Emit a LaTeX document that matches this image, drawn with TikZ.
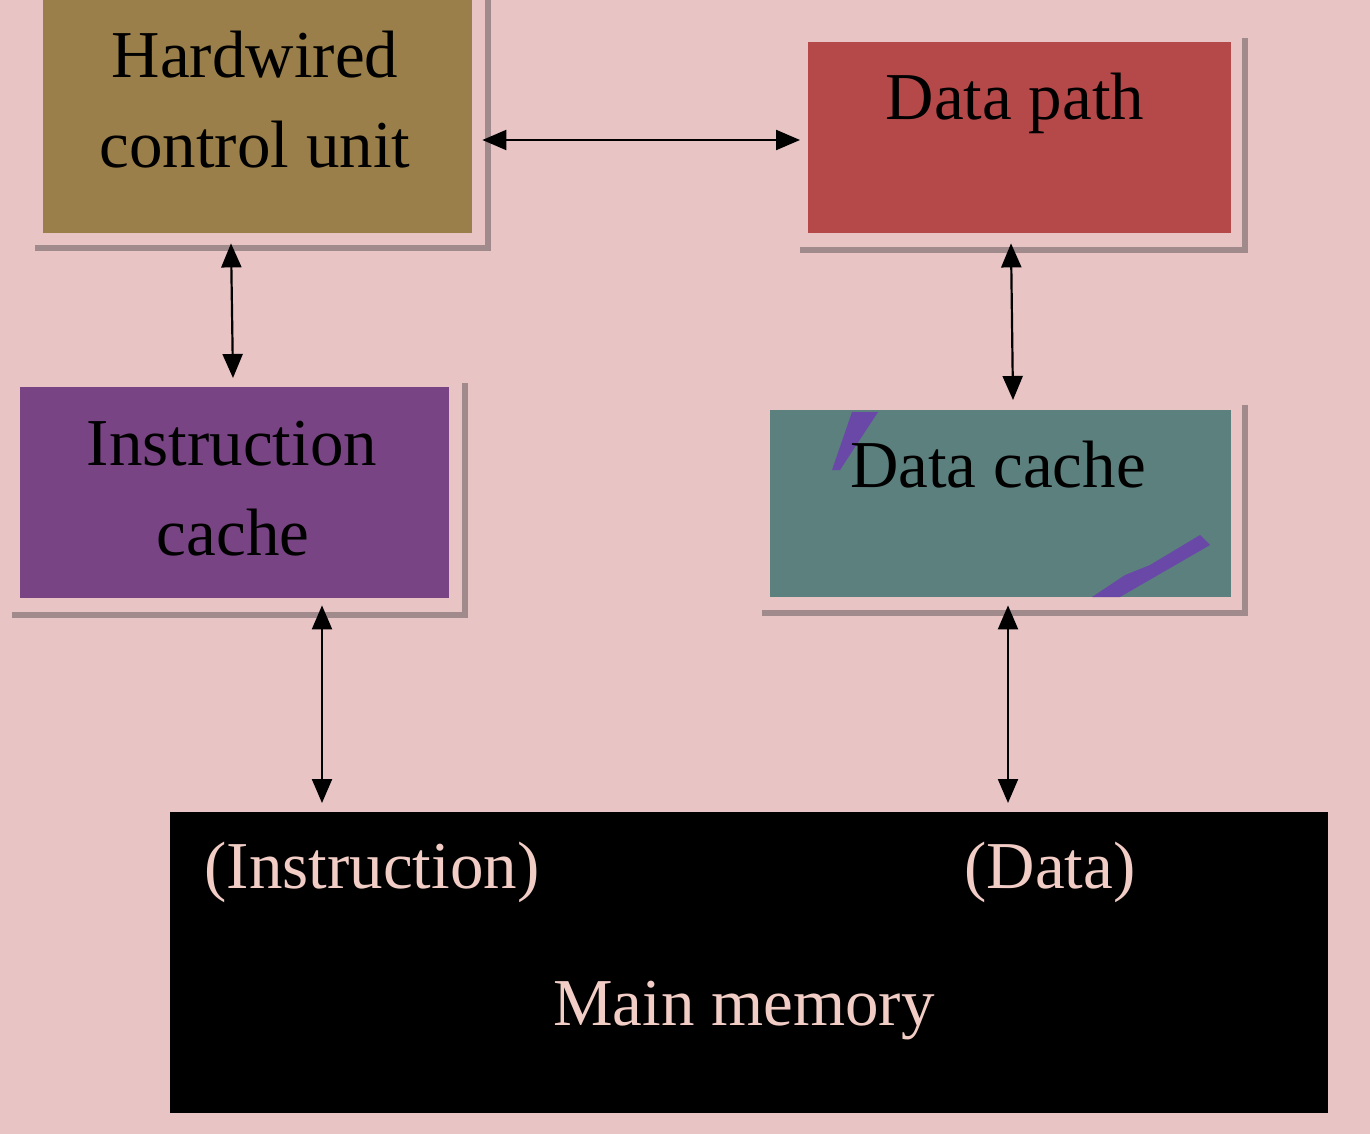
\documentclass[tikz,border=0pt]{standalone}
\usepackage{fontspec}
\setmainfont{Liberation Serif}
\usetikzlibrary{arrows.meta}
\definecolor{bgpink}{HTML}{E8C4C4}
\definecolor{hwcol}{HTML}{9A7F4A}
\definecolor{dpcol}{HTML}{B5494A}
\definecolor{iccol}{HTML}{784483}
\definecolor{dccol}{HTML}{5B807E}
\definecolor{shcol}{HTML}{A08A8C}
\definecolor{mmtext}{HTML}{F2CDC6}
\definecolor{streak}{HTML}{6A48A8}
\tikzset{
  box/.style={draw=none, inner sep=0pt, anchor=north west},
  shadowline/.style={draw=shcol, line width=6pt},
  lbl/.style={inner sep=0pt, font=\fontsize{67}{80}\selectfont, anchor=base},
  arr/.style={{Triangle[length=24pt,width=20pt]}-{Triangle[length=24pt,width=20pt]}, line width=2.2pt, black}
}
\begin{document}
\begin{tikzpicture}[x=1pt,y=-1pt]
\fill[bgpink] (0,0) rectangle (1370,1134);
\useasboundingbox (0,0) rectangle (1370,1134);

% boxes
\node[box, fill=hwcol, minimum width=429pt, minimum height=233pt] (hw) at (43,0) {};
\node[box, fill=dpcol, minimum width=423pt, minimum height=191pt] (dp) at (808,42) {};
\node[box, fill=iccol, minimum width=429pt, minimum height=211pt] (ic) at (20,387) {};
\node[box, fill=dccol, minimum width=461pt, minimum height=187pt] (dc) at (770,410) {};
\node[box, fill=black, minimum width=1158pt, minimum height=301pt] (mm) at (170,812) {};

% shadows
\draw[shadowline] ([shift={(-8,15)}]hw.south west) -| ([shift={(16,0)}]hw.north east);
\draw[shadowline] ([shift={(-8,17)}]dp.south west) -| ([shift={(14,-4)}]dp.north east);
\draw[shadowline] ([shift={(-8,17)}]ic.south west) -| ([shift={(16,-4)}]ic.north east);
\draw[shadowline] ([shift={(-8,16)}]dc.south west) -| ([shift={(14,-5)}]dc.north east);

% streaks on data cache
\fill[streak] (852,412) -- (878,412) -- (840,470) -- (832,470) -- cycle;
\fill[streak] (1092,597) -- (1120,597) -- (1210,545) -- (1200,535) -- (1150,565) -- (1125,575) -- cycle;

% labels
\node[lbl] (t1) at (255,78) {Hardwired};
\node[lbl] (t2) at (255,168) {control unit};
\node[lbl] (t3) at (1015,120) {Data path};
\node[lbl] (t4) at (232,465) {Instruction};
\node[lbl] (t5) at (233,555) {cache};
\node[lbl] (t6) at (998,487) {Data cache};
\node[lbl, text=mmtext] (t7) at (372,888) {(Instruction)};
\node[lbl, text=mmtext] (t8) at (1050,888) {(Data)};
\node[lbl, text=mmtext] (t9) at (744,1025) {Main memory};

% connectors
\draw[arr] ([xshift=10pt]hw.east |- 0,140) -- ([xshift=-8pt]dp.west |- 0,140);
\draw[arr] ([yshift=-10pt]hw.south -| 231,0) -- ([yshift=9pt]ic.north -| 233,0);
\draw[arr] ([yshift=-10pt]dp.south -| 1011,0) -- ([yshift=10pt]dc.north -| 1013,0);
\draw[arr] ([yshift=-7pt]ic.south -| 322,0) -- ([yshift=9pt]mm.north -| 322,0);
\draw[arr] ([yshift=-8pt]dc.south -| 1008,0) -- ([yshift=9pt]mm.north -| 1008,0);
\end{tikzpicture}
\end{document}
